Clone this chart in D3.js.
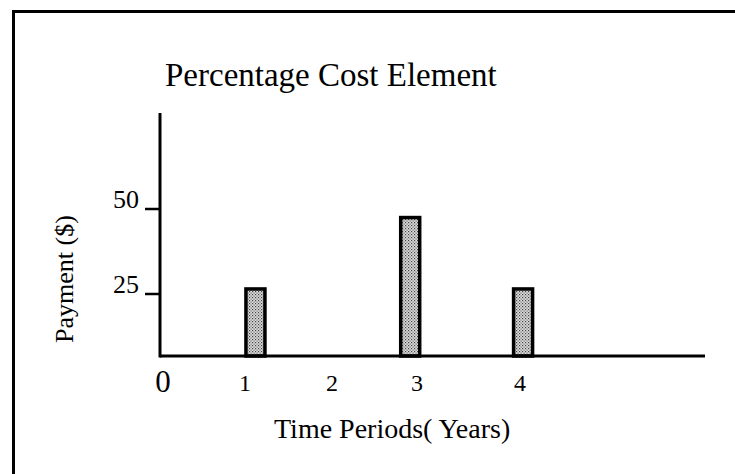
<!DOCTYPE html>
<html><head><meta charset="utf-8">
<script src="https://cdn.jsdelivr.net/npm/d3@7"></script>
<style>html,body{margin:0;padding:0;background:#fff}svg{display:block}</style>
</head><body>
<script>
const title = "Percentage Cost Element";
const xTitle = "Time Periods( Years)";
const yTitle = "Payment ($)";
const periodTicks = [1, 2, 3, 4];
const yTicks = [25, 50];
const barPeriods = [1.12, 2.92, 4.03];
const barValues = [27, 48, 27];

const W = 735, H = 474;
const svg = d3.select("body").append("svg").attr("width", W).attr("height", H);
const defs = svg.append("defs");
const pat = defs.append("pattern").attr("id","stip").attr("width",3).attr("height",3).attr("patternUnits","userSpaceOnUse");
pat.append("rect").attr("width",3).attr("height",3).attr("fill","#dcdcdc");
pat.append("rect").attr("x",0).attr("y",0).attr("width",1.2).attr("height",1.2).attr("fill","#444");
pat.append("rect").attr("x",1.5).attr("y",1.5).attr("width",1.2).attr("height",1.2).attr("fill","#666");

const font = "'Liberation Serif','Times New Roman',serif";

// frame (cropped: only top and left visible)
svg.append("path").attr("d", `M13.5,${H} V11.5 H${W}`).attr("fill","none").attr("stroke","#000").attr("stroke-width",3);

const x = d3.scaleLinear().domain([0,1,2,3,4,5.8]).range([160,245,332,417,520,705]);
const y = d3.scaleLinear().domain([0,25,50,68.5]).range([356,294,209,113]);

// bars
svg.selectAll("rect.bar").data(barValues).join("rect").attr("class","bar")
  .attr("x",(d,i)=>x(barPeriods[i])-9.5)
  .attr("width",19)
  .attr("y",d=>y(d)+1.75)
  .attr("height",d=>y(0)-y(d)-1.75)
  .attr("fill","url(#stip)").attr("stroke","#000").attr("stroke-width",3.5);

// axes
svg.append("line").attr("x1",x(0)).attr("x2",x(0)).attr("y1",y(68.5)).attr("y2",y(0)+1.5).attr("stroke","#000").attr("stroke-width",3);
svg.append("line").attr("x1",x(0)).attr("x2",x(5.8)).attr("y1",y(0)).attr("y2",y(0)).attr("stroke","#000").attr("stroke-width",3);

// y ticks
svg.selectAll("line.yt").data(yTicks).join("line").attr("class","yt")
  .attr("x1",x(0)-15).attr("x2",x(0)).attr("y1",d=>y(d)).attr("y2",d=>y(d)).attr("stroke","#000").attr("stroke-width",2.5);
svg.selectAll("text.yl").data(yTicks).join("text").attr("class","yl")
  .attr("x",x(0)-21).attr("y",d=>y(d)).attr("dy","-1").attr("text-anchor","end")
  .style("font-family",font).style("font-size","26px").text(d=>d);

// x tick labels
svg.append("text").attr("x",x(0)+3).attr("y",392).attr("text-anchor","middle")
  .style("font-family",font).style("font-size","31px").text("0");
svg.selectAll("text.xl").data(periodTicks).join("text").attr("class","xl")
  .attr("x",d=>x(d)).attr("y",391).attr("text-anchor","middle")
  .style("font-family",font).style("font-size","24px").text(d=>d);

// titles
svg.append("text").attr("x",165).attr("y",86).style("font-family",font).style("font-size","33px").text(title);
svg.append("text").attr("x",274).attr("y",438).style("font-family",font).style("font-size","28px").text(xTitle);
svg.append("text").attr("transform","translate(73,279) rotate(-90)").attr("text-anchor","middle").style("font-family",font).style("font-size","26px").text(yTitle);
</script>
</body></html>
